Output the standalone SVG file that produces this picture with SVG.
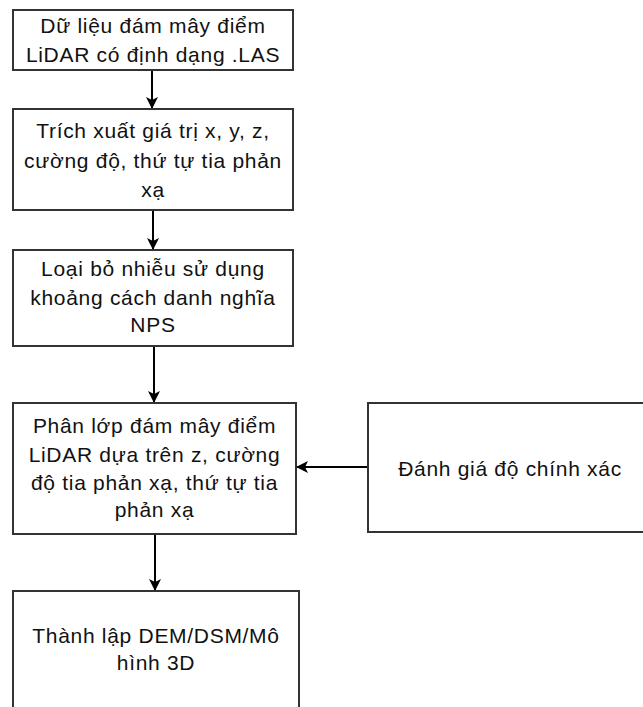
<svg xmlns="http://www.w3.org/2000/svg" width="643" height="707" viewBox="0 0 643 707">
<defs>
<style>
.box{fill:#fff;stroke:#333;stroke-width:2}
.t{font-family:"Liberation Sans",Arial,sans-serif;font-size:21px;letter-spacing:0.7px;fill:#111;text-anchor:middle}
.c{stroke:#000;stroke-width:2;fill:none}
</style>
<marker id="ah" viewBox="0 0 12 12" refX="11" refY="6" markerWidth="12" markerHeight="12" markerUnits="userSpaceOnUse" orient="auto">
<path d="M0,0 L12,6 L0,12 L3,6 Z" fill="#000"/>
</marker>
</defs>
<rect width="643" height="707" fill="#fff"/>
<g id="connectors">
<line class="c" x1="152" y1="70" x2="152" y2="108" marker-end="url(#ah)"/>
<line class="c" x1="153" y1="210" x2="153" y2="249" marker-end="url(#ah)"/>
<line class="c" x1="154" y1="346" x2="154" y2="402" marker-end="url(#ah)"/>
<line class="c" x1="155" y1="534" x2="155" y2="590" marker-end="url(#ah)"/>
<line class="c" x1="368" y1="467" x2="297" y2="467" marker-end="url(#ah)"/>
</g>
<g id="n1">
<rect class="box" x="13" y="10" width="280" height="60"/>
<text class="t" x="153" y="33">Dữ liệu đám mây điểm</text>
<text class="t" x="153" y="62">LiDAR có định dạng .LAS</text>
</g>
<g id="n2">
<rect class="box" x="13" y="109" width="280" height="101"/>
<text class="t" x="153" y="138">Trích xuất giá trị x, y, z,</text>
<text class="t" x="153" y="168">cường độ, thứ tự tia phản</text>
<text class="t" x="153" y="197">xạ</text>
</g>
<g id="n3">
<rect class="box" x="13" y="250" width="280" height="96"/>
<text class="t" x="153" y="276">Loại bỏ nhiễu sử dụng</text>
<text class="t" x="153" y="305">khoảng cách danh nghĩa</text>
<text class="t" x="153" y="332">NPS</text>
</g>
<g id="n4">
<rect class="box" x="13" y="403" width="283" height="131"/>
<text class="t" x="154.5" y="433">Phân lớp đám mây điểm</text>
<text class="t" x="154.5" y="462">LiDAR dựa trên z, cường</text>
<text class="t" x="154.5" y="490">độ tia phản xạ, thứ tự tia</text>
<text class="t" x="154.5" y="517">phản xạ</text>
</g>
<g id="n5">
<rect class="box" x="13" y="591" width="286" height="130"/>
<text class="t" x="156" y="643">Thành lập DEM/DSM/Mô</text>
<text class="t" x="156" y="670">hình 3D</text>
</g>
<g id="n6">
<rect class="box" x="368" y="403" width="284" height="129"/>
<text class="t" x="510" y="476">Đánh giá độ chính xác</text>
</g>
</svg>
